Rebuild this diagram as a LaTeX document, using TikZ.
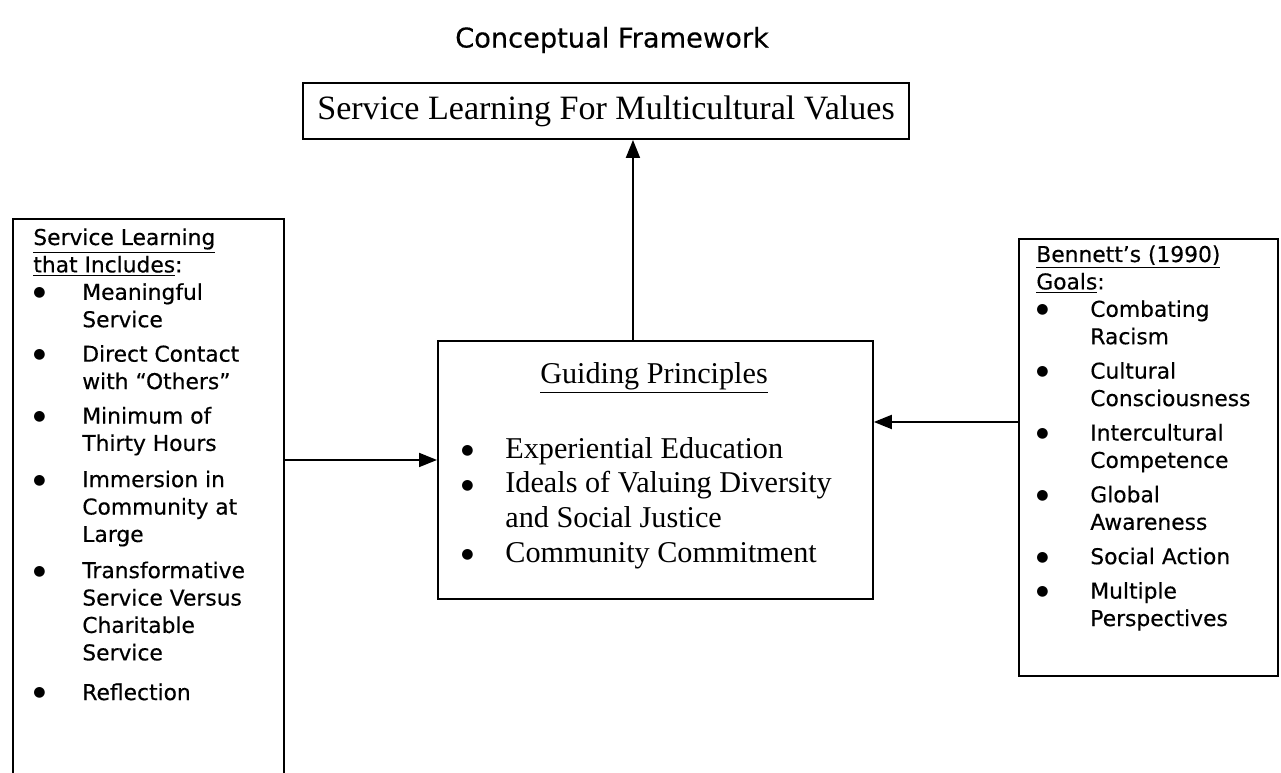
\documentclass[tikz,border=0pt]{standalone}
\usepackage{fontspec}
\setmainfont{Liberation Serif}
\newfontfamily\flarefont[FakeBold=0.4]{DejaVu Sans}
\newfontfamily\dotfont{DejaVu Sans}
\usetikzlibrary{arrows.meta,positioning}
\newcommand{\undl}[1]{\underline{#1}}
\newcommand{\dotmark}{\raisebox{0.26ex}{\dotfont\fontsize{8}{8}\selectfont ●}}
\newcommand{\sidefont}{\flarefont\fontsize{12.4}{15.6}\selectfont}
\newcommand{\mainfont}{\fontsize{17.2}{19.8}\selectfont}
\tikzset{
  framebox/.style={
    draw,
    line width=1.1pt,
    anchor=north west,
    inner sep=0pt
  },
  listtext/.style={
    anchor=base west,
    inner sep=0pt,
    align=left,
    font=\sidefont
  },
  linkarrow/.style={-{Triangle[length=3.6mm, width=2.8mm]}, line width=1.1pt}
}

\begin{document}
\begin{tikzpicture}[x=0.02cm, y=-0.02cm]
\useasboundingbox (0,0) rectangle (1281,773);

\node[font=\flarefont\fontsize{15.5}{18}\selectfont] (title) at (612,40) {Conceptual Framework};

% outcome box on top
\node[draw, line width=1.1pt, minimum width=12.14cm, minimum height=1.12cm, font=\fontsize{19.4}{21}\selectfont] (goal) at (606,111) {Service Learning For Multicultural Values};

% middle box
\node[framebox, minimum width=8.7cm, minimum height=5.16cm] (guide) at (437,340) {};
\node[font=\fontsize{17.2}{19}\selectfont, anchor=base] (guidehead) at (654,383) {\undl{Guiding Principles}};
\node[anchor=base west, inner sep=0pt, align=left, font=\mainfont] (guidelist) at (461,458) {%
  \begin{tabular}[t]{@{}p{0.88cm}@{}l@{}}
  \dotmark & Experiential Education\\
  \dotmark & Ideals of Valuing Diversity\\
           & and Social Justice\\
  \dotmark & Community Commitment
  \end{tabular}};

% left box, runs off the bottom of the page
\node[framebox, minimum width=5.42cm, minimum height=11.44cm] (includes) at (12,218) {};
\node[listtext] (includeslist) at (33,245) {%
  \begin{tabular}[t]{@{}p{0.98cm}@{}l@{}}
  \multicolumn{2}{@{}l@{}}{\undl{Service Learning}}\\
  \multicolumn{2}{@{}l@{}}{\undl{that Includes}:}\\
  \dotmark & Meaningful\\
           & Service\\[4pt]
  \dotmark & Direct Contact\\
           & with “Others”\\[4pt]
  \dotmark & Minimum of\\
           & Thirty Hours\\[5pt]
  \dotmark & Immersion in\\
           & Community at\\
           & Large\\[5pt]
  \dotmark & Transformative\\
           & Service Versus\\
           & Charitable\\
           & Service\\[7pt]
  \dotmark & Reflection
  \end{tabular}};

% right box
\node[framebox, minimum width=5.18cm, minimum height=8.74cm] (goals) at (1018,238) {};
\node[listtext] (goalslist) at (1036,262) {%
  \begin{tabular}[t]{@{}p{1.08cm}@{}l@{}}
  \multicolumn{2}{@{}l@{}}{\undl{Bennett’s (1990)}}\\
  \multicolumn{2}{@{}l@{}}{\undl{Goals}:}\\
  \dotmark & Combating\\
           & Racism\\[4pt]
  \dotmark & Cultural\\
           & Consciousness\\[4pt]
  \dotmark & Intercultural\\
           & Competence\\[4pt]
  \dotmark & Global\\
           & Awareness\\[4pt]
  \dotmark & Social Action\\[4pt]
  \dotmark & Multiple\\
           & Perspectives
  \end{tabular}};

% connectors
\coordinate (upfoot) at ([xshift=3.92cm]guide.north west);
\coordinate (leftin) at ([yshift=-2.4cm]guide.north west);
\coordinate (rightin) at ([yshift=-1.64cm]guide.north east);

\draw[linkarrow] (upfoot) -- (upfoot |- goal.south);
\draw[linkarrow] (includes.east |- leftin) -- (leftin);
\draw[linkarrow] (goals.west |- rightin) -- (rightin);
\end{tikzpicture}
\end{document}
